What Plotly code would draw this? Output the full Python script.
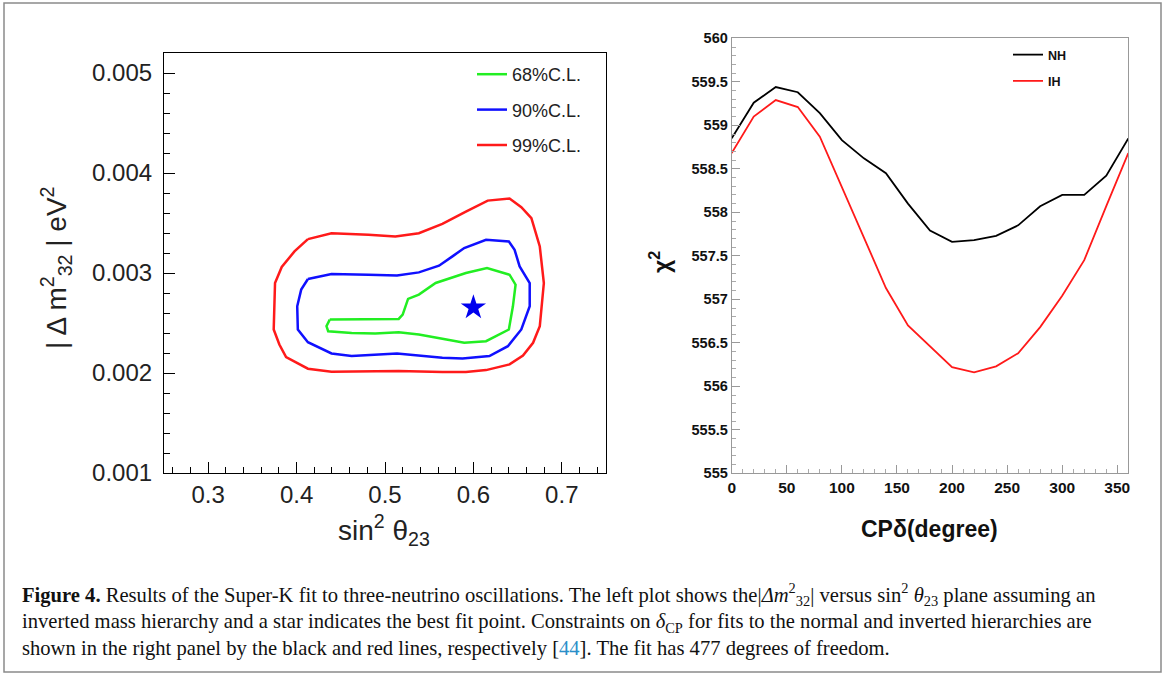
import plotly.graph_objects as go

W, H = 1165, 675

# ---------------- Left panel data: contours in (sin^2 theta23, |dm^2_32|) ----------------
c68_s = [0.4375, 0.5155, 0.5200, 0.5261, 0.5383, 0.5573, 0.5915, 0.6154, 0.6409, 0.6477,
         0.6447, 0.6401, 0.6143, 0.5896, 0.5649, 0.5383, 0.5155, 0.4889, 0.4623, 0.4357,
         0.4338, 0.4375]
c68_m = [2.534, 2.541, 2.584, 2.741, 2.784, 2.900, 3.000, 3.050, 2.983, 2.883,
         2.667, 2.435, 2.318, 2.302, 2.342, 2.385, 2.408, 2.395, 2.401, 2.418,
         2.468, 2.534]

c90_s = [0.4128, 0.4395, 0.4813, 0.5136, 0.5383, 0.5611, 0.5763, 0.5896, 0.6143, 0.6401,
         0.6466, 0.6523, 0.6637, 0.6637, 0.6542, 0.6390, 0.6181, 0.5877, 0.5649, 0.5136,
         0.4623, 0.4395, 0.4128, 0.4014, 0.4007, 0.4052, 0.4128]
c90_m = [2.940, 2.990, 2.983, 2.976, 3.006, 3.073, 3.166, 3.249, 3.332, 3.315,
         3.232, 3.066, 2.900, 2.667, 2.435, 2.268, 2.169, 2.146, 2.152, 2.195,
         2.169, 2.195, 2.308, 2.435, 2.667, 2.834, 2.940]

c99_s = [0.4128, 0.4395, 0.4813, 0.5117, 0.5383, 0.5649, 0.5915, 0.6162, 0.6409, 0.6542,
         0.6656, 0.6751, 0.6797, 0.6751, 0.6675, 0.6561, 0.6409, 0.6143, 0.5915, 0.5649,
         0.5155, 0.4623, 0.4395, 0.4128, 0.3881, 0.3805, 0.3741, 0.3756, 0.3832, 0.3976,
         0.4128]
c99_m = [3.339, 3.398, 3.382, 3.365, 3.398, 3.492, 3.614, 3.724, 3.744, 3.658,
         3.548, 3.265, 2.900, 2.468, 2.302, 2.175, 2.086, 2.029, 2.009, 2.009,
         2.019, 2.009, 2.012, 2.043, 2.159, 2.285, 2.435, 2.900, 3.060, 3.216,
         3.339]

best_s = [0.600]
best_m = [2.655]

left_xticks = [0.3, 0.4, 0.5, 0.6, 0.7]
left_yticks = [0.001, 0.002, 0.003, 0.004, 0.005]

# ---------------- Right panel data: chi^2 vs delta_CP ----------------
delta_cp = [0, 20, 40, 60, 80, 100, 120, 140, 160, 180, 200, 220, 240, 260, 280, 300, 320, 340, 360]
chi2_nh = [558.85, 559.26, 559.44, 559.38, 559.14, 558.83, 558.62, 558.45, 558.10, 557.79,
           557.66, 557.68, 557.73, 557.85, 558.07, 558.20, 558.20, 558.42, 558.85]
chi2_ih = [558.68, 559.10, 559.29, 559.21, 558.87, 558.29, 557.70, 557.13, 556.70, 556.46,
           556.22, 556.16, 556.23, 556.38, 556.68, 557.04, 557.45, 558.07, 558.68]

fig = go.Figure()

GREEN, BLUE, RED = "#22ee22", "#1010ff", "#ff1a1a"

def e3(v):
    return [x * 1e-3 for x in v]

fig.add_trace(go.Scatter(x=c68_s, y=e3(c68_m), mode="lines", name="68%C.L.",
                         line=dict(color=GREEN, width=2.5), xaxis="x", yaxis="y",
                         legend="legend", legendgroup="a"))
fig.add_trace(go.Scatter(x=c90_s, y=e3(c90_m), mode="lines", name="90%C.L.",
                         line=dict(color=BLUE, width=2.5), xaxis="x", yaxis="y",
                         legend="legend", legendgroup="b"))
fig.add_trace(go.Scatter(x=c99_s, y=e3(c99_m), mode="lines", name="99%C.L.",
                         line=dict(color=RED, width=2.5), xaxis="x", yaxis="y",
                         legend="legend", legendgroup="c"))
fig.add_trace(go.Scatter(x=best_s, y=e3(best_m), mode="markers", showlegend=False,
                         marker=dict(symbol="star", size=19, color="#0000ee"),
                         xaxis="x", yaxis="y"))

fig.add_trace(go.Scatter(x=delta_cp, y=chi2_nh, mode="lines", name="NH",
                         line=dict(color="black", width=1.8), xaxis="x2", yaxis="y2",
                         legend="legend2", legendgroup="d"))
fig.add_trace(go.Scatter(x=delta_cp, y=chi2_ih, mode="lines", name="IH",
                         line=dict(color=RED, width=1.8), xaxis="x2", yaxis="y2",
                         legend="legend2", legendgroup="e"))

SANS = "Liberation Sans, Arial, Helvetica, sans-serif"
SERIF = "Liberation Serif, Times New Roman, serif"

def px_x(p):
    return p / W

def px_y(p):
    return 1 - p / H

left_axis_common = dict(showline=True, linecolor="black", linewidth=1.2, mirror=True,
                        ticks="inside", ticklen=11, tickwidth=1.2, tickcolor="black",
                        showgrid=False, zeroline=False, automargin=False,
                        tickfont=dict(family=SANS, size=24, color="#222"))

fig.update_layout(
    width=W, height=H,
    margin=dict(l=0, r=0, t=0, b=0, pad=0, autoexpand=False),
    paper_bgcolor="white", plot_bgcolor="white",
    showlegend=True,
    xaxis=dict(domain=[px_x(164), px_x(606)], range=[0.25, 0.75], anchor="y",
               tickvals=left_xticks, ticktext=[f"{v:.1f}" for v in left_xticks],
               minor=dict(dtick=0.02, ticklen=6, tickwidth=1.2, tickcolor="black", ticks="inside"),
               **left_axis_common),
    yaxis=dict(domain=[px_y(473), px_y(53)], range=[0.001, 0.0052], anchor="x",
               tickvals=left_yticks, ticktext=[f"{v:.3f}" for v in left_yticks],
               minor=dict(dtick=0.0002, tick0=0.001, ticklen=6, tickwidth=1.2,
                          tickcolor="black", ticks="inside"),
               ticklabelstandoff=6,
               **left_axis_common),
    xaxis2=dict(domain=[px_x(731.7), px_x(1128.3)], range=[0, 360], anchor="y2",
                dtick=50, tick0=0, showline=True, linecolor="#999", linewidth=1, mirror=True,
                ticks="inside", ticklen=8, tickcolor="#999", showgrid=False, zeroline=False,
                automargin=False,
                minor=dict(dtick=10, ticklen=4, tickcolor="#aaa", ticks="inside"),
                tickfont=dict(family=SANS, size=15.5, color="#111", weight="bold")),
    yaxis2=dict(domain=[px_y(473.3), px_y(38.3)], range=[555, 560], anchor="x2",
                dtick=0.5, tick0=555, showline=True, linecolor="#999", linewidth=1, mirror=True,
                ticks="inside", ticklen=8, tickcolor="#999", showgrid=False, zeroline=False,
                automargin=False,
                minor=dict(dtick=0.1, ticklen=4, tickcolor="#aaa", ticks="inside"),
                tickfont=dict(family=SANS, size=14.5, color="#111", weight="bold")),
    legend=dict(x=px_x(472), y=px_y(56), xanchor="left", yanchor="top",
                bgcolor="rgba(0,0,0,0)", font=dict(family=SANS, size=18, color="#222"),
                tracegroupgap=9, itemwidth=30),
    legend2=dict(x=px_x(1008), y=px_y(40), xanchor="left", yanchor="top",
                 bgcolor="rgba(0,0,0,0)", font=dict(family=SANS, size=12.5, color="#111", weight="bold"),
                 tracegroupgap=7, itemwidth=30),
)

P = dict(xref="paper", yref="paper", showarrow=False)
CAP = dict(family=SERIF, size=20.6, color="#111")
caption = ("<b>Figure 4.</b> Results of the Super-K fit to three-neutrino oscillations. The left plot shows the"
           "|<i>Δm</i><sup>2</sup><sub>32</sub>| versus sin<sup>2</sup> <i>θ</i><sub>23</sub> plane assuming an<br>"
           "inverted mass hierarchy and a star indicates the best fit point. Constraints on "
           "<i>δ</i><sub>CP</sub> for fits to the normal and inverted hierarchies are<br>"
           "shown in the right panel by the black and red lines, respectively "
           "[<span style='color:#2a8fc9'>44</span>]. The fit has 477 degrees of freedom.")
annotations = [
    # left axis titles
    dict(x=px_x(384), y=px_y(530), text="sin<sup>2</sup> θ<sub>23</sub>",
         xanchor="center", yanchor="middle", font=dict(family=SANS, size=28, color="#222"), **P),
    dict(x=px_x(56), y=px_y(268), text="| Δ m<sup>2</sup><sub>32</sub> | eV<sup>2</sup>",
         textangle=-90, xanchor="center", yanchor="middle",
         font=dict(family=SANS, size=28, color="#222"), **P),
    # right axis titles
    dict(x=px_x(929), y=px_y(529), text="CPδ(degree)",
         xanchor="center", yanchor="middle",
         font=dict(family=SANS, size=23, color="#111", weight="bold"), **P),
    dict(x=px_x(660), y=px_y(262), text="χ<sup>2</sup>", textangle=-90,
         xanchor="center", yanchor="middle",
         font=dict(family=SANS, size=23, color="#111", weight="bold"), **P),
    # caption
    dict(x=px_x(20), y=px_y(620), xanchor="left", yanchor="middle", align="left",
         text=caption, font=CAP, **P),
]
fig.update_layout(annotations=annotations)

fig.add_shape(type="rect", xref="paper", yref="paper",
              x0=px_x(4), x1=px_x(1161), y0=px_y(672), y1=px_y(3),
              line=dict(color="#8a8a8a", width=1.5), fillcolor="rgba(0,0,0,0)", layer="below")

fig.write_html("out.html")
